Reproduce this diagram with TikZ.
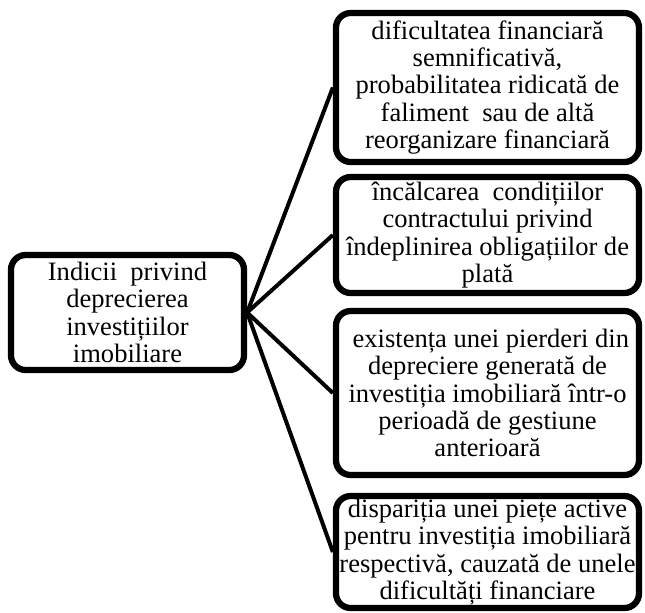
\documentclass[tikz,border=0pt]{standalone}
\usepackage{fontspec}
\setmainfont{Liberation Serif}
\usetikzlibrary{shadows}

\tikzset{
    box/.style={rectangle, draw, line width=4.7pt, rounded corners=11pt, fill=white, align=center, inner sep=0pt,
        font=\fontsize{19.9}{20.5}\selectfont, drop shadow={opacity=0.22, shadow xshift=1.2pt, shadow yshift=-2.2pt}},
    link/.style={line width=3pt}
}

\begin{document}
\begin{tikzpicture}[x=0.75pt, y=-0.75pt]
    \useasboundingbox (0, 0) rectangle (645, 612);
    \node[box, minimum width=174.75pt, minimum height=86.25pt] (root) at (127.5, 312.5) {Indicii\ \ privind\\deprecierea\\investițiilor\\imobiliare};
    \node[box, minimum width=227.25pt, minimum height=111.75pt] (c1) at (487.5, 87.5) {dificultatea financiară\\semnificativă,\\probabilitatea ridicată de\\faliment\ \ sau de altă\\reorganizare financiară};
    \node[box, minimum width=227.25pt, minimum height=87pt] (c2) at (487.5, 235) {încălcarea\ \ condițiilor\\contractului privind\\îndeplinirea obligațiilor de\\plată};
    \node[box, minimum width=227.25pt, minimum height=123pt] (c3) at (487.5, 393) {\ existența unei pierderi din\\depreciere generată de\\investiția imobiliară într-o\\perioadă de gestiune\\anterioară};
    \node[box, minimum width=227.25pt, minimum height=84pt] (c4) at (487.5, 552) {dispariția unei piețe active\\pentru investiția imobiliară\\respectivă, cauzată de unele\\dificultăți financiare};
    \draw[link] (root.east) -- (c1.west);
    \draw[link] (root.east) -- (c2.west);
    \draw[link] (root.east) -- (c3.west);
    \draw[link] (root.east) -- (c4.west);
\end{tikzpicture}
\end{document}
